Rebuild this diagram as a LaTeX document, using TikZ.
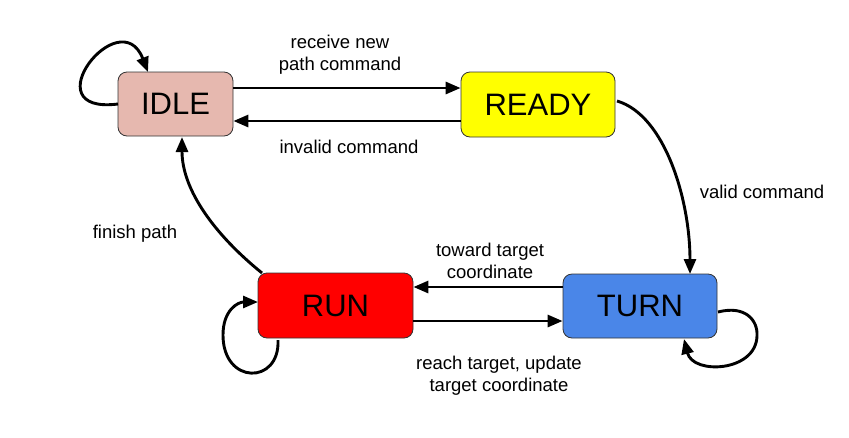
\documentclass[tikz,border=0pt]{standalone}
\usepackage{fontspec}
\setmainfont{Liberation Sans}
\usetikzlibrary{arrows.meta}
\definecolor{idlec}{HTML}{E6B8AF}
\definecolor{readyc}{HTML}{FFFF00}
\definecolor{runc}{HTML}{FF0000}
\definecolor{turnc}{HTML}{4A86E8}
\begin{document}
\begin{tikzpicture}[x=1pt,y=-1pt,
  state/.style={draw=black!80, line width=0.8pt, rounded corners=9pt, inner sep=0pt,
    font=\fontsize{31}{36}\selectfont},
  conn/.style={line width=2.9pt, -{Triangle[length=15pt,width=12pt]}},
  lbl/.style={font=\fontsize{18.5}{22}\selectfont, align=center, inner sep=0pt}]
\useasboundingbox (0,0) rectangle (849,437);
\node[state, fill=idlec, minimum width=115pt, minimum height=64pt] (IDLE) at (175.5,104) {IDLE};
\node[state, fill=readyc, minimum width=154pt, minimum height=65pt] (READY) at (538,104.5) {READY};
\node[state, fill=runc, minimum width=155pt, minimum height=65pt] (RUN) at (335.5,305.5) {RUN};
\node[state, fill=turnc, minimum width=154pt, minimum height=64pt] (TURN) at (640,306) {TURN};
\coordinate (l1) at (0,88);
\coordinate (l2) at (0,121);
\coordinate (l3) at (0,287);
\coordinate (l4) at (0,321);
\draw[conn] (IDLE.east |- l1) -- (READY.west |- l1);
\draw[conn] (READY.west |- l2) -- (IDLE.east |- l2);
\draw[conn] (TURN.west |- l3) -- (RUN.east |- l3);
\draw[conn] (RUN.east |- l4) -- (TURN.west |- l4);
\coordinate (r1) at (617,101);
\coordinate (t1) at (690,274);
\draw[conn] (r1) .. controls (665,115) and (690,200) .. (t1);
\coordinate (u1) at (262,273);
\coordinate (i1) at (182,137);
\draw[conn] (u1) .. controls (215,235) and (182,190) .. (i1);
\coordinate (i2) at (118,104);
\coordinate (i3) at (148,72);
\draw[conn] (i2) .. controls (30,115) and (120,0) .. (i3);
\coordinate (u2) at (278,340);
\coordinate (u3) at (258,302);
\draw[conn] (u2) .. controls (280,385) and (223,385) .. (223,335)
  .. controls (223,310) and (238,302) .. (u3);
\coordinate (t2) at (718,312);
\coordinate (t3) at (684,339);
\draw[conn] (t2) .. controls (745,305) and (758,320) .. (757,336)
  .. controls (756,372) and (693,375) .. (t3);
\node[lbl] (a1) at (340,55) {receive new\\path command};
\node[lbl] (a2) at (349,147) {invalid command};
\node[lbl] (a3) at (762,192) {valid command};
\node[lbl] (a4) at (490,261) {toward target\\coordinate};
\node[lbl] (a5) at (499,376) {reach target, update\\target coordinate};
\node[lbl] (a6) at (135,234) {finish path};
\end{tikzpicture}
\end{document}
